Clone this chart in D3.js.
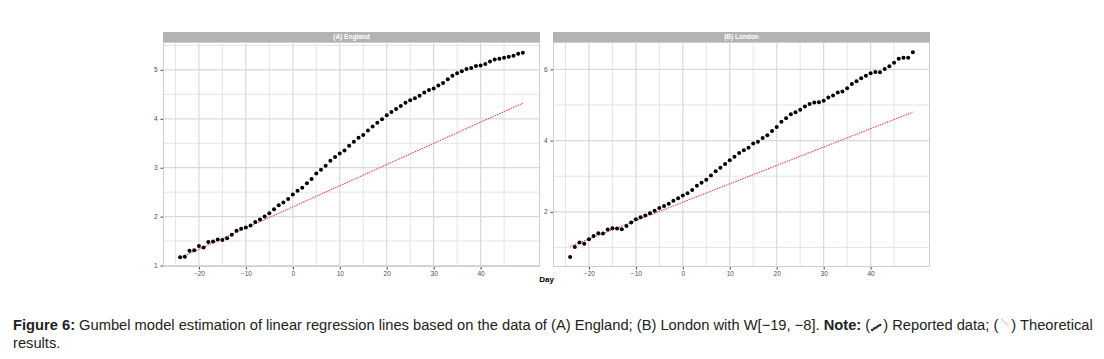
<!DOCTYPE html>
<html><head><meta charset="utf-8">
<script src="https://cdn.jsdelivr.net/npm/d3@7"></script>
<style>body{margin:0;background:#fff}svg{display:block}</style>
</head><body>
<svg id="c" width="1104" height="359"></svg>
<script>
const days = [-24,-23,-22,-21,-20,-19,-18,-17,-16,-15,-14,-13,-12,-11,-10,-9,-8,-7,-6,-5,-4,-3,-2,-1,
  0,1,2,3,4,5,6,7,8,9,10,11,12,13,14,15,16,17,18,19,20,21,22,23,24,25,26,27,28,29,30,31,32,33,34,35,
  36,37,38,39,40,41,42,43,44,45,46,47,48,49];
const englandValues = [1.17,1.18,1.30,1.31,1.40,1.37,1.48,1.49,1.53,1.52,1.56,1.63,1.71,1.75,1.78,1.82,1.89,1.94,2.00,2.07,
  2.15,2.23,2.29,2.36,2.45,2.53,2.59,2.68,2.77,2.88,2.96,3.04,3.14,3.22,3.29,3.35,3.45,3.53,3.61,3.67,
  3.76,3.84,3.92,3.99,4.07,4.14,4.20,4.26,4.33,4.38,4.42,4.47,4.54,4.59,4.62,4.68,4.73,4.81,4.88,4.93,
  4.97,5.02,5.04,5.08,5.09,5.12,5.17,5.21,5.23,5.25,5.27,5.29,5.33,5.35];
const londonValues = [0.73,1.01,1.14,1.10,1.23,1.32,1.40,1.39,1.50,1.54,1.53,1.51,1.60,1.70,1.79,1.85,1.90,1.96,2.03,2.11,
  2.16,2.23,2.31,2.38,2.46,2.52,2.61,2.73,2.82,2.90,3.02,3.14,3.24,3.34,3.45,3.55,3.65,3.73,3.80,3.92,
  3.97,4.07,4.15,4.27,4.38,4.53,4.63,4.74,4.80,4.87,4.96,5.03,5.07,5.08,5.12,5.21,5.27,5.35,5.38,5.47,
  5.59,5.67,5.75,5.82,5.89,5.93,5.92,6.01,6.09,6.19,6.30,6.33,6.33,6.48];
const theoDays = [-24, 49];
const englandTheo = [1.16, 4.32];
const londonTheo = [1.03, 4.80];
const panelTitles = ["(A) England", "(B) London"];
const xTicks = [-20,-10,0,10,20,30,40];
const xMinor = [-25,-15,-5,5,15,25,35,45];
const englandYTicks = [1,2,3,4,5];
const englandYMinor = [1.5,2.5,3.5,4.5,5.5];
const londonYTicks = [2,4,6];
const londonYMinor = [1,3,5];
const xLabel = "Day";

const svg = d3.select("#c");
const fmt = d => (d < 0 ? "\u2212" + Math.abs(d) : String(d));

const panels = [
  {title: panelTitles[0], vals: englandValues, theo: englandTheo, yTicks: englandYTicks, yMinor: englandYMinor,
   x0: 163, x1: 540, ydom: [0.97, 5.57]},
  {title: panelTitles[1], vals: londonValues, theo: londonTheo, yTicks: londonYTicks, yMinor: londonYMinor,
   x0: 553, x1: 930, ydom: [0.45, 6.77]}
];
const pTop = 42, pBottom = 267, stripTop = 32;

panels.forEach(p => {
  const x = d3.scaleLinear().domain([-27.65, 52.65]).range([p.x0, p.x1]);
  const y = d3.scaleLinear().domain(p.ydom).range([pBottom, pTop]);
  const g = svg.append("g");
  g.append("rect").attr("x", p.x0).attr("y", pTop).attr("width", p.x1 - p.x0).attr("height", pBottom - pTop)
    .attr("fill", "#fff");
  g.selectAll(null).data(xMinor).join("line")
    .attr("x1", d => x(d)).attr("x2", d => x(d)).attr("y1", pTop).attr("y2", pBottom)
    .attr("stroke", "#e4e4e4").attr("stroke-width", 1);
  g.selectAll(null).data(p.yMinor).join("line")
    .attr("y1", d => y(d)).attr("y2", d => y(d)).attr("x1", p.x0).attr("x2", p.x1)
    .attr("stroke", "#e4e4e4").attr("stroke-width", 1);
  g.selectAll(null).data(xTicks).join("line")
    .attr("x1", d => x(d)).attr("x2", d => x(d)).attr("y1", pTop).attr("y2", pBottom)
    .attr("stroke", "#d9d9d9").attr("stroke-width", 1.2);
  g.selectAll(null).data(p.yTicks).join("line")
    .attr("y1", d => y(d)).attr("y2", d => y(d)).attr("x1", p.x0).attr("x2", p.x1)
    .attr("stroke", "#d9d9d9").attr("stroke-width", 1.2);
  g.append("rect").attr("x", p.x0 + 0.5).attr("y", pTop + 0.5).attr("width", p.x1 - p.x0 - 1)
    .attr("height", pBottom - pTop - 1).attr("fill", "none").attr("stroke", "#cfcfcf").attr("stroke-width", 1);
  g.append("rect").attr("x", p.x0).attr("y", stripTop).attr("width", p.x1 - p.x0).attr("height", pTop - stripTop)
    .attr("fill", "#b3b3b3");
  g.append("text").attr("x", (p.x0 + p.x1) / 2).attr("y", stripTop + 7.3).attr("text-anchor", "middle")
    .attr("font-family", "Liberation Sans, Arial, sans-serif").attr("font-size", 6.5).attr("font-weight", "bold")
    .attr("fill", "#fff").text(p.title);
  const xa = g.append("g").attr("transform", `translate(0,${pBottom})`)
    .call(d3.axisBottom(x).tickValues(xTicks).tickFormat(fmt).tickSize(2.5).tickPadding(2));
  const ya = g.append("g").attr("transform", `translate(${p.x0},0)`)
    .call(d3.axisLeft(y).tickValues(p.yTicks).tickFormat(d3.format("d")).tickSize(2.5).tickPadding(3));
  [xa, ya].forEach(a => {
    a.select(".domain").remove();
    a.selectAll(".tick line").attr("stroke", "#444");
    a.selectAll("text").attr("font-family", "Liberation Sans, Arial, sans-serif").attr("font-size", 6.5)
      .attr("fill", "#4d4d4d");
  });
  g.append("path").datum(theoDays.map((d, i) => [d, p.theo[i]]))
    .attr("d", d3.line().x(d => x(d[0])).y(d => y(d[1])))
    .attr("fill", "none").attr("stroke", "#e8474d").attr("stroke-width", 1.1).attr("stroke-dasharray", "1.5,1");
  g.selectAll(null).data(days.map((d, i) => [d, p.vals[i]])).join("circle")
    .attr("cx", d => x(d[0])).attr("cy", d => y(d[1])).attr("r", 2).attr("fill", "#000");
});

svg.append("text").attr("x", 546.5).attr("y", 282).attr("text-anchor", "middle")
  .attr("font-family", "Liberation Sans, Arial, sans-serif").attr("font-size", 8).attr("font-weight", "bold")
  .text(xLabel);

const capFont = "Liberation Sans, Arial, sans-serif";
const capSize = 14.7;
let cx = 13;
const y1 = 330, y2 = 348;
function seg(str, bold) {
  const t = svg.append("text").attr("x", cx).attr("y", y1).attr("font-family", capFont).attr("font-size", capSize)
    .attr("font-weight", bold ? "bold" : "normal").attr("fill", "#222")
    .style("white-space", "pre").text(str);
  cx += t.node().getComputedTextLength();
}
function icon(kind) {
  const w = 13;
  if (kind === "rep") {
    [[2,10],[4,8.5],[6,7.5],[8,6],[10,5]].forEach(([a,b]) =>
      svg.append("circle").attr("cx", cx + a).attr("cy", y1 - 10 + b).attr("r", 1.3).attr("fill", "#222"));
  } else {
    svg.append("line").attr("x1", cx + 3).attr("y1", y1 - 11).attr("x2", cx + 10).attr("y2", y1 - 4)
      .attr("stroke", "#f2b5b8").attr("stroke-width", 1.5).attr("stroke-dasharray", "1.5,0.8");
  }
  cx += w;
}
seg("Figure 6:", true);
seg(" Gumbel model estimation of linear regression lines based on the data of (A) England; (B) London with W[\u221219, \u22128]. ", false);
seg("Note:", true);
seg(" (", false);
icon("rep");
seg(") Reported data; (", false);
icon("theo");
seg(") Theoretical", false);
svg.append("text").attr("x", 13).attr("y", y2).attr("font-family", capFont).attr("font-size", capSize)
  .attr("fill", "#222").text("results.");
</script>
</body></html>
